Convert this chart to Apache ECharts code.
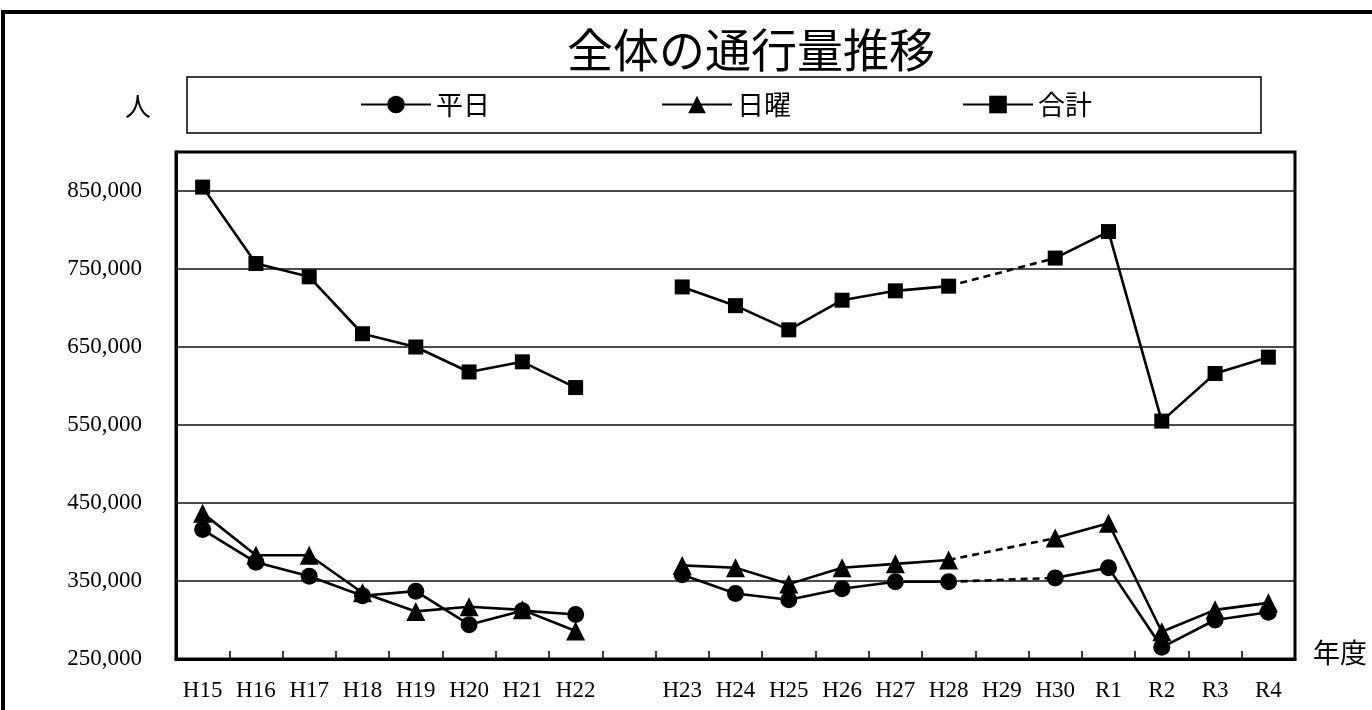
<!DOCTYPE html>
<html>
<head>
<meta charset="utf-8">
<script src="https://cdn.jsdelivr.net/npm/echarts@6/dist/echarts.min.js"></script>
<style>
html,body{margin:0;padding:0;background:#fff;}
#chart{width:1372px;height:710px;}
</style>
</head>
<body>
<div id="chart"></div>
<script>
// categories (index 8 is an empty gap slot)
const categories = ['H15','H16','H17','H18','H19','H20','H21','H22','','H23','H24','H25','H26','H27','H28','H29','H30','R1','R2','R3','R4'];
// values (people)
const weekday = [416000,374000,356000,331000,337000,294000,312000,307000,null,358000,334000,326000,340000,349000,349000,null,354000,367000,265000,300000,310000];
const sunday  = [437000,383000,383000,335000,311000,317000,313000,286000,null,370000,367000,346000,367000,372000,377000,null,405000,424000,285000,313000,322000];
const total   = [855000,757000,740000,667000,650000,618000,631000,598000,null,727000,703000,672000,710000,722000,728000,null,764000,798000,555000,616000,637000];
// dashed bridge across missing H29
const bridgeIdx = [14, 16];
// y tick labels
const yTicks = [250000,350000,450000,550000,650000,750000,850000];
const seriesNames = ['平日','日曜','合計'];

function bridge(arr){ return arr.map((v,i)=> bridgeIdx.indexOf(i) >= 0 ? v : null); }

const chart = echarts.init(document.getElementById('chart'));
const lineStyle = {color:'#000', width:2.6};
const itemStyle = {color:'#000'};
function mainSeries(name, data, symbol, size){
  return {name, type:'line', data, symbol, symbolSize:size, showSymbol:true,
    connectNulls:false, lineStyle, itemStyle, z:3, animation:false};
}
function dashSeries(name, data){
  return {name:name+'_dash', type:'line', data:bridge(data), connectNulls:true, showSymbol:false,
    symbol:'none', lineStyle:{color:'#000', width:2.6, type:[7,5]}, z:2, animation:false};
}
chart.setOption({
  animation:false,
  backgroundColor:'#fff',
  grid:{left:176, right:77, top:152, bottom:51, show:true, borderColor:'#000', borderWidth:3},
  legend:{data:seriesNames, left:355, top:86, itemWidth:70, itemHeight:22, itemGap:171,
    selectedMode:false,
    textStyle:{fontFamily:'Noto Sans CJK JP', fontSize:27, color:'#000', padding:[0,0,0,0]}},
  xAxis:{type:'category', data:categories, boundaryGap:true,
    axisLine:{lineStyle:{color:'#000', width:3}},
    axisTick:{show:true, inside:true, length:8, interval:0, lineStyle:{color:'#000', width:1.5}},
    axisLabel:{interval:0, margin:20, fontFamily:'Liberation Serif', fontSize:23, color:'#000'}},
  yAxis:{type:'value', min:250000, max:900000, interval:50000,
    axisLine:{show:true, lineStyle:{color:'#000', width:3}},
    axisTick:{show:false},
    axisLabel:{margin:34, fontFamily:'Liberation Serif', fontSize:23, color:'#000',
      formatter:(v)=> yTicks.indexOf(v) >= 0 ? v.toLocaleString('en-US') : ''},
    splitLine:{show:true, lineStyle:{color:['#111','rgba(0,0,0,0)'], width:1.5}}},
  series:[
    mainSeries('平日', weekday, 'circle', 17),
    mainSeries('日曜', sunday, 'triangle', 19),
    mainSeries('合計', total, 'rect', 15),
    dashSeries('平日', weekday),
    dashSeries('日曜', sunday),
    dashSeries('合計', total)
  ],
  graphic:[
    {type:'rect', shape:{x:3, y:12, width:1420, height:760}, style:{fill:'none', stroke:'#000', lineWidth:4}, z:-1},
    {type:'text', x:751, y:50, style:{text:'全体の通行量推移', font:'46px "Noto Sans CJK JP"', fill:'#000', textAlign:'center', textVerticalAlign:'middle'}},
    {type:'rect', shape:{x:187, y:77, width:1074, height:56}, style:{fill:'none', stroke:'#000', lineWidth:1.5}, z:-1},
    {type:'text', x:138, y:106, style:{text:'人', font:'26px "Noto Sans CJK JP"', fill:'#000', textAlign:'center', textVerticalAlign:'middle'}},
    {type:'text', x:1340, y:653, style:{text:'年度', font:'27px "Noto Sans CJK JP"', fill:'#000', textAlign:'center', textVerticalAlign:'middle'}}
  ]
});
</script>
</body>
</html>
